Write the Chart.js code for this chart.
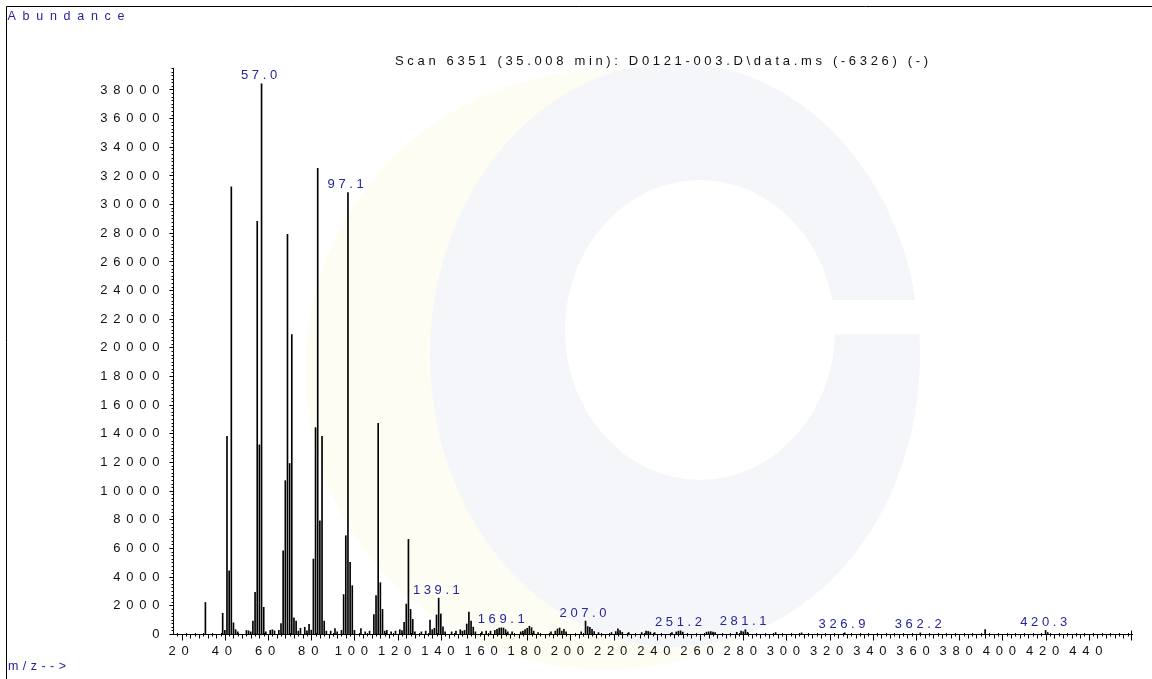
<!DOCTYPE html>
<html>
<head>
<meta charset="utf-8">
<title>Scan 6351 (35.008 min)</title>
<script src="https://cdn.jsdelivr.net/npm/chart.js@4.4.1/dist/chart.umd.min.js"></script>
<style>
  html, body { margin: 0; padding: 0; background: #fff; }
  #wrap { width: 1152px; height: 679px; }
</style>
</head>
<body>
<div id="wrap"><canvas id="ms" width="1152" height="679"></canvas></div>
<script>
// === 1. DATA ===
const masses = [
  31, 39, 40, 41, 42, 43, 44, 45, 46, 50, 51, 52, 53, 54, 55, 56, 57, 58, 59, 61, 62, 63, 65,
  66, 67, 68, 69, 70, 71, 72, 73, 74, 75, 77, 78, 79, 80,
  81, 82, 83, 84, 85, 86, 87, 89, 91, 92, 94, 95, 96, 97, 98, 99, 100, 103, 105, 107,
  109, 110, 111, 112, 113, 114, 115, 117, 119, 121, 122, 123, 124, 125, 126, 127, 128,
  131, 133, 135, 136, 137, 138, 139, 140, 141, 142, 145, 147, 149, 150, 151, 152, 153, 154, 155, 156,
  159, 161, 163, 165, 166, 167, 168, 169, 170, 171, 173, 177, 178, 179, 180, 181, 182, 183, 185,
  191, 193, 194, 195, 196, 197, 198, 205, 207, 208, 209, 210, 211, 213, 219, 221, 222, 223, 224,
  227, 233, 235, 236, 237, 239, 247, 249, 250, 251, 252, 263, 264, 265, 266, 267,
  277, 279, 280, 281, 282, 295, 307, 327, 362, 392, 420, 421
];
const abundances = [
  2200, 1450, 250, 13800, 4400, 31200, 780, 300, 150, 250, 220, 150, 900, 2900, 28800, 13200, 38400, 1860, 150, 250, 300, 220, 260,
  730, 5800, 10700, 27900, 11900, 20900, 1120, 900, 200, 400, 470, 220, 680, 270,
  5230, 14400, 32500, 7900, 13800, 900, 200, 200, 380, 150, 250, 2750, 6860, 30800, 5000, 3370, 250, 380, 150, 200,
  1350, 2680, 14700, 3580, 1720, 200, 250, 150, 200, 300, 230, 815, 2090, 6600, 1720, 1020, 150,
  150, 200, 980, 300, 400, 1330, 2500, 1400, 500, 150, 150, 200, 300, 200, 250, 700, 1530, 900, 480, 150,
  150, 200, 200, 250, 330, 420, 430, 420, 300, 150, 150, 150, 200, 300, 400, 540, 440, 200, 100,
  150, 200, 350, 420, 200, 330, 150, 150, 900, 520, 470, 330, 170, 100, 100, 170, 360, 230, 120,
  100, 100, 200, 180, 130, 100, 100, 140, 200, 220, 130, 130, 150, 170, 140, 100,
  120, 200, 150, 300, 120, 100, 80, 80, 80, 300, 250, 100
];
// labelled peaks: position (m/z) and printed text
const labelMasses = [57.0, 97.1, 139.1, 169.1, 207.0, 251.2, 281.1, 326.9, 362.2, 420.3];
const labelTexts = ['57.0', '97.1', '139.1', '169.1', '207.0', '251.2', '281.1', '326.9', '362.2', '420.3'];
// axis tick labels
const yTickValues = [0, 2000, 4000, 6000, 8000, 10000, 12000, 14000, 16000, 18000, 20000,
  22000, 24000, 26000, 28000, 30000, 32000, 34000, 36000, 38000];
const xTickValues = [20, 40, 60, 80, 100, 120, 140, 160, 180, 200, 220, 240, 260, 280, 300,
  320, 340, 360, 380, 400, 420, 440];
const titleText = 'Scan 6351 (35.008 min): D0121-003.D\\data.ms (-6326) (-)';

// === 2. STYLE ===
const FONT = '"Liberation Sans", Arial, sans-serif';
const BLUE = '#25259c';
const INK = '#111';

// draws text one glyph at a time with a fixed gap between glyphs (the printout is letter-spaced)
function spacedWidth(ctx, text, gap) {
  const chars = [...text];
  return chars.reduce((s, c) => s + ctx.measureText(c).width, 0) + gap * (chars.length - 1);
}
function drawSpaced(ctx, text, x, y, gap, align) {
  const total = spacedWidth(ctx, text, gap);
  let cx = align === 'center' ? x - total / 2 : align === 'right' ? x - total : x;
  ctx.textAlign = 'left';
  for (const c of text) {
    ctx.fillText(c, cx, y);
    cx += ctx.measureText(c).width + gap;
  }
}
// same, but the gap is chosen so that the text spans `width` pixels
function drawFitted(ctx, text, x, y, width) {
  const chars = [...text];
  const raw = spacedWidth(ctx, text, 0);
  drawSpaced(ctx, text, x, y, (width - raw) / (chars.length - 1), 'left');
}

// faint logo printed behind the spectrum
function drawWatermark(ctx) {
  ctx.save();
  ctx.fillStyle = '#fdfdf4';
  ctx.beginPath(); ctx.arc(605, 370, 300, 0, Math.PI * 2); ctx.fill();
  ctx.fillStyle = '#f5f6f9';
  ctx.beginPath(); ctx.ellipse(675, 355, 245, 292, 0, 0, Math.PI * 2); ctx.fill();
  ctx.fillStyle = '#ffffff';
  ctx.beginPath(); ctx.ellipse(700, 330, 135, 150, 0, 0, Math.PI * 2); ctx.fill();
  ctx.fillRect(700, 300, 230, 34);
  ctx.restore();
}

// === 3. DECORATION PLUGIN (frame, ticks, letter-spaced texts) ===
const msDecor = {
  id: 'msDecor',
  beforeDraw(chart) {
    const ctx = chart.ctx;
    ctx.save();
    ctx.fillStyle = '#fff';
    ctx.fillRect(0, 0, chart.width, chart.height);
    drawWatermark(ctx);
    // page frame (left + top)
    ctx.strokeStyle = '#000';
    ctx.lineWidth = 1;
    ctx.beginPath();
    ctx.moveTo(6.5, chart.height); ctx.lineTo(6.5, 6.5); ctx.lineTo(chart.width, 6.5);
    ctx.stroke();
    ctx.restore();
  },
  afterDraw(chart) {
    const ctx = chart.ctx;
    const xs = chart.scales.x, ys = chart.scales.y;
    const axisY = Math.round(ys.getPixelForValue(0)) + 0.5;
    const axisX = Math.round(xs.left) + 0.5;
    ctx.save();
    ctx.strokeStyle = '#000';
    ctx.lineWidth = 1;
    ctx.beginPath();
    // x ticks: every 2, longer every 4, longest every 20
    for (let m = 18; m < xs.max; m += 2) {
      const px = Math.round(xs.getPixelForValue(m)) + 0.5;
      if (m % 20 === 0) { ctx.moveTo(px, axisY); ctx.lineTo(px, axisY + 6); }
      else if (m % 4 === 0) { ctx.moveTo(px, axisY); ctx.lineTo(px, axisY + 4); }
      else { ctx.moveTo(px, axisY - 1.5); ctx.lineTo(px, axisY + 2); }
    }
    const endX = Math.round(xs.right) - 0.5;
    ctx.moveTo(endX, axisY - 4); ctx.lineTo(endX, axisY + 6);
    // y ticks: minor every 250, major every 2000
    for (let v = 0; v <= ys.max; v += 250) {
      const py = Math.round(ys.getPixelForValue(v)) + 0.5;
      const len = v % 2000 === 0 ? 4 : 2;
      ctx.moveTo(axisX - len, py); ctx.lineTo(axisX, py);
    }
    ctx.stroke();

    // tick labels
    ctx.fillStyle = INK;
    ctx.font = '13px ' + FONT;
    ctx.textBaseline = 'middle';
    yTickValues.forEach(v => {
      drawSpaced(ctx, String(v), 159.5, ys.getPixelForValue(v) + 0.5, 5.8, 'right');
    });
    ctx.textBaseline = 'alphabetic';
    xTickValues.forEach(v => {
      drawSpaced(ctx, String(v), xs.getPixelForValue(v) - 3, 655, 5.8, 'center');
    });

    // peak labels, just above their peak (never lower than just above the axis)
    ctx.fillStyle = BLUE;
    labelMasses.forEach((m, i) => {
      const k = masses.indexOf(Math.round(m));
      const top = ys.getPixelForValue(k >= 0 ? abundances[k] : 0);
      const y = Math.min(top - 4.5, axisY - 4.5);
      drawSpaced(ctx, labelTexts[i], xs.getPixelForValue(m) - 2.5, y, 3.6, 'center');
    });

    // title, axis names
    ctx.fillStyle = INK;
    ctx.font = '13px ' + FONT;
    drawFitted(ctx, titleText, 395, 65, 533);
    ctx.fillStyle = BLUE;
    ctx.font = '12.5px ' + FONT;
    drawFitted(ctx, 'Abundance', 7.5, 20, 117);
    drawFitted(ctx, 'm/z-->', 8, 670, 58);
    ctx.restore();
  }
};

// === 4. CHART ===
const ctx = document.getElementById('ms').getContext('2d');
const spectrum = new Chart(ctx, {
  type: 'bar',
  data: {
    datasets: [{
      label: 'Abundance',
      data: masses.map((m, i) => ({ x: m, y: abundances[i] })),
      backgroundColor: '#000',
      borderWidth: 0,
      barThickness: 1
    }]
  },
  options: {
    responsive: false,
    animation: false,
    layout: { padding: { left: 173, top: 68, right: 20, bottom: 45 } },
    plugins: { legend: { display: false }, tooltip: { enabled: false } },
    scales: {
      x: {
        type: 'linear', min: 16, max: 460, offset: false,
        ticks: { display: false },
        grid: { display: false, offset: false },
        border: { display: true, color: '#000', width: 1 },
        afterFit: s => { s.height = 0; }
      },
      y: {
        type: 'linear', min: 0, max: 39500,
        ticks: { display: false },
        grid: { display: false },
        border: { display: true, color: '#000', width: 1 },
        afterFit: s => { s.width = 0; }
      }
    }
  },
  plugins: [msDecor]
});
</script>
</body>
</html>
